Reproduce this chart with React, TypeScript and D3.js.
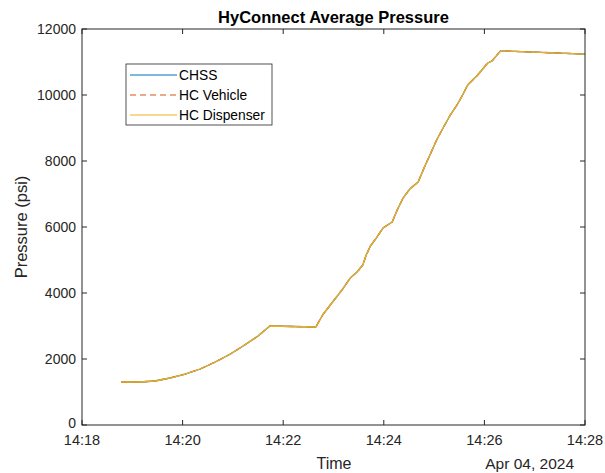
import React from "react";
import * as d3 from "d3";

// seconds after 14:18:00 on Apr 04, 2024
const timeSeconds = [47, 69, 87, 105, 123, 141, 159, 177, 194, 210, 224, 279, 287, 298, 310, 320, 328, 335, 339, 344, 351, 359, 370, 376, 383, 391, 401, 408, 415, 423, 432, 440, 448, 454, 460, 466, 472, 478, 484, 489, 493, 499, 507, 600];
const chssPressure = [1303, 1303, 1333, 1424, 1545, 1697, 1909, 2151, 2424, 2697, 3000, 2970, 3333, 3697, 4090, 4454, 4636, 4848, 5151, 5424, 5666, 5969, 6151, 6515, 6878, 7151, 7363, 7787, 8181, 8636, 9060, 9423, 9726, 9999, 10302, 10454, 10605, 10787, 10969, 11030, 11150, 11332, 11332, 11241];
const vehiclePressure = [1303, 1303, 1333, 1424, 1545, 1697, 1909, 2151, 2424, 2697, 3000, 2970, 3333, 3697, 4090, 4454, 4636, 4848, 5151, 5424, 5666, 5969, 6151, 6515, 6878, 7151, 7363, 7787, 8181, 8636, 9060, 9423, 9726, 9999, 10302, 10454, 10605, 10787, 10969, 11030, 11150, 11332, 11332, 11241];
const dispenserPressure = [1303, 1303, 1333, 1424, 1545, 1697, 1909, 2151, 2424, 2697, 3000, 2970, 3333, 3697, 4090, 4454, 4636, 4848, 5151, 5424, 5666, 5969, 6151, 6515, 6878, 7151, 7363, 7787, 8181, 8636, 9060, 9423, 9726, 9999, 10302, 10454, 10605, 10787, 10969, 11030, 11150, 11332, 11332, 11241];

const seriesNames = ["CHSS", "HC Vehicle", "HC Dispenser"];
const yTicks = [0, 2000, 4000, 6000, 8000, 10000, 12000];
const xTickMinutes = [18, 20, 22, 24, 26, 28];

const W = 605, H = 473;
const L = 82, R = 585, T = 29, B = 425;
const FONT = "'Liberation Sans', Arial, sans-serif";
const TXT = "#262626";

const base = new Date(2024, 3, 4, 14, 18, 0).getTime();
const toDate = (s: number) => new Date(base + s * 1000);

export default function App() {
  const x = d3.scaleTime().domain([new Date(2024, 3, 4, 14, 18), new Date(2024, 3, 4, 14, 28)]).range([L, R]);
  const y = d3.scaleLinear().domain([0, 12000]).range([B, T]);
  const fmt = d3.timeFormat("%H:%M");
  const mk = (vals: number[]) =>
    d3.line<number>().x((_, i) => x(toDate(timeSeconds[i]))).y((v) => y(v))(vals) || "";
  const series = [
    { name: seriesNames[0], vals: chssPressure, color: "#0072BD", dash: undefined },
    { name: seriesNames[1], vals: vehiclePressure, color: "#D95319", dash: "6,4" },
    { name: seriesNames[2], vals: dispenserPressure, color: "#EDB120", dash: undefined },
  ];
  const xTicks = xTickMinutes.map((m) => new Date(2024, 3, 4, 14, m));
  return (
    <svg width={W} height={H} style={{ position: "absolute", left: 0, top: 0, background: "#fff" }} fontFamily={FONT}>
      <rect x={0} y={0} width={W} height={H} fill="#fff" />
      <rect x={L} y={T} width={R - L} height={B - T} fill="#fff" />
      {series.map((s) => (
        <path key={s.name} d={mk(s.vals)} fill="none" stroke={s.color} strokeWidth={1.3} strokeDasharray={s.dash} strokeLinejoin="round" />
      ))}
      {/* box */}
      <rect x={L} y={T} width={R - L} height={B - T} fill="none" stroke={TXT} strokeWidth={1} />
      {yTicks.map((t) => (
        <g key={"y" + t}>
          <line x1={L} x2={L + 5} y1={y(t)} y2={y(t)} stroke={TXT} />
          <line x1={R} x2={R - 5} y1={y(t)} y2={y(t)} stroke={TXT} />
          <text x={L - 6} y={y(t) - (t === 0 ? 2 : 0)} dy="0.35em" textAnchor="end" fontSize={14} fill={TXT}>{t}</text>
        </g>
      ))}
      {xTicks.map((t, i) => (
        <g key={"x" + i}>
          <line x1={x(t)} x2={x(t)} y1={B} y2={B - 5} stroke={TXT} />
          <line x1={x(t)} x2={x(t)} y1={T} y2={T + 5} stroke={TXT} />
          <text x={x(t)} y={445} textAnchor="middle" fontSize={14.5} fill={TXT}>{fmt(t)}</text>
        </g>
      ))}
      <text x={334} y={469} textAnchor="middle" fontSize={16} fill={TXT}>Time</text>
      <text x={574} y={469} textAnchor="end" fontSize={15.5} fill={TXT}>Apr 04, 2024</text>
      <text transform={`translate(27,${(T + B) / 2}) rotate(-90)`} textAnchor="middle" fontSize={16.5} fill={TXT}>Pressure (psi)</text>
      <text x={(L + R) / 2} y={23} textAnchor="middle" fontSize={16.5} fontWeight="bold" fill="#000">HyConnect Average Pressure</text>
      {/* legend */}
      <rect x={126} y={64} width={146} height={61} fill="#fff" stroke={TXT} strokeWidth={0.8} />
      {series.map((s, i) => (
        <g key={"lg" + i}>
          <line x1={130} x2={177} y1={75 + i * 20} y2={75 + i * 20} stroke={s.color} strokeWidth={1.1} strokeDasharray={s.dash} />
          <text x={179} y={75 + i * 20} dy="0.35em" fontSize={13.8} fill="#000">{s.name}</text>
        </g>
      ))}
    </svg>
  );
}
